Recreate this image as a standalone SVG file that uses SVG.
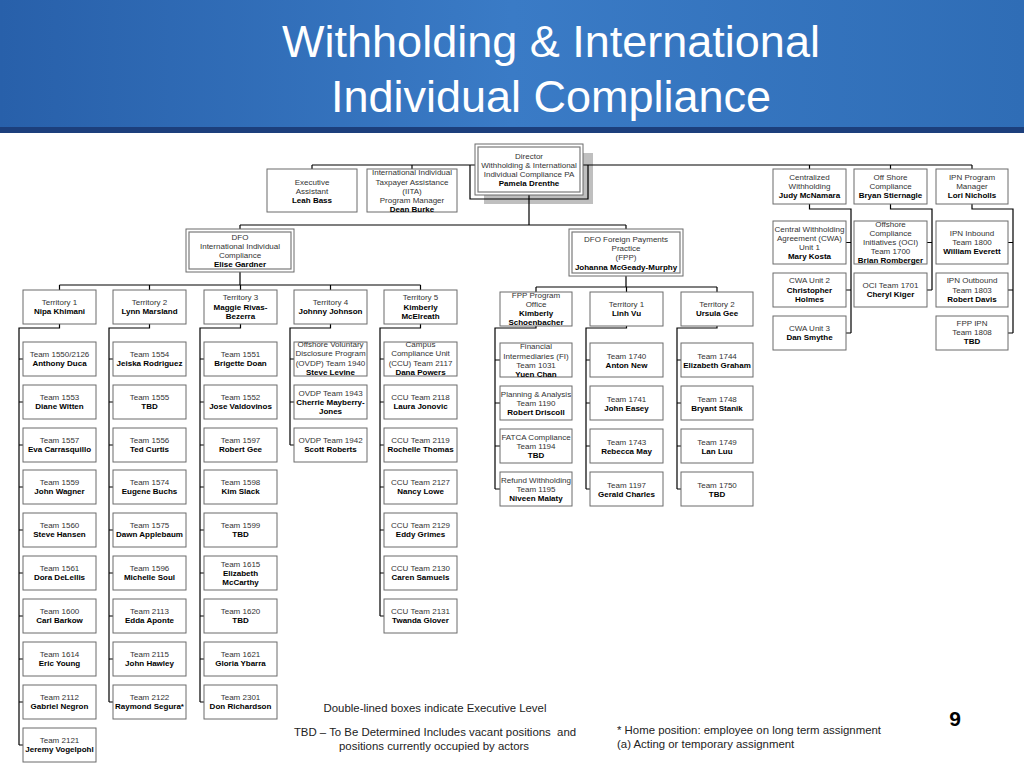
<svg xmlns="http://www.w3.org/2000/svg" width="1024" height="768" viewBox="0 0 1024 768">
<style>
.b{fill:#fff;stroke:#6b6b6b;stroke-width:1}
.d{fill:none;stroke:#7a7a7a;stroke-width:1.2}
.t{font-family:"Liberation Sans",Arial,Helvetica,sans-serif;font-size:8px;fill:#333;text-anchor:middle}
.n{font-weight:bold;fill:#000}
.c{fill:none;stroke:#000;stroke-width:1.2}
.lg{font-family:"Liberation Sans",Arial,Helvetica,sans-serif;font-size:11.4px;fill:#222}
</style>
<defs>
<linearGradient id="hg" x1="0" y1="0" x2="1" y2="0">
<stop offset="0" stop-color="#2860aa"/>
<stop offset="0.5" stop-color="#3a7bc6"/>
<stop offset="1" stop-color="#2f6db6"/>
</linearGradient>
</defs>
<rect x="0" y="0" width="1024" height="768" fill="#fff"/>
<g id="header">
<rect x="0" y="0" width="1024" height="128" fill="url(#hg)"/>
<rect x="0" y="127" width="1024" height="6" fill="#1c3f7c"/>
<text x="551" y="57" font-family="Liberation Sans,Arial,sans-serif" font-size="45" fill="#fff" text-anchor="middle">Withholding &amp; International</text>
<text x="551" y="112" font-family="Liberation Sans,Arial,sans-serif" font-size="45" fill="#fff" text-anchor="middle">Individual Compliance</text>
</g>
<rect x="484" y="153" width="109" height="51" fill="#bfbfbf"/>
<g id="connectors" class="c">
<path d="M312,165H972M312,165V169M412,165V169M470,165V199H588V165M809.5,165V169M890.5,165V169M972,165V169"/>
<path d="M809.5,204V209H851V333M846,242.5H851M846,290H851M846,333H851"/>
<path d="M890.5,204V209H932V290M927,242.5H932M927,290H932"/>
<path d="M972,204V209H1013V333M1008,242.5H1013M1008,290H1013M1008,333H1013"/>
<path d="M529,195V225M240,225H626M240,225V229M626,225V229"/>
<path d="M240,272V285M59.5,285H420.5M59.5,285V290M149.5,285V290M240.5,285V290M330.5,285V290M420.5,285V290"/>
<path d="M626,276V287M536,287H717M536,287V292M626.5,287V292M717,287V292"/>
<path d="M59.5,324V328H19V745M19,359H23M19,402H23M19,445H23M19,487H23M19,530H23M19,573H23M19,616H23M19,659H23M19,702H23M19,745H23"/>
<path d="M149.5,324V328H109V702M109,359H113M109,402H113M109,445H113M109,487H113M109,530H113M109,573H113M109,616H113M109,659H113M109,702H113"/>
<path d="M240.5,324V328H200V702M200,359H204M200,402H204M200,445H204M200,487H204M200,530H204M200,573H204M200,616H204M200,659H204M200,702H204"/>
<path d="M330.5,324V328H290V445M290,359H294M290,402H294M290,445H294"/>
<path d="M420.5,324V328H380V616M380,359H384M380,402H384M380,445H384M380,487H384M380,530H384M380,573H384M380,616H384"/>
<path d="M536,326V328H495V489M495,360H500M495,403H500M495,446H500M495,489H500"/>
<path d="M626.5,326V328H586V489M586,360H590M586,403H590M586,446H590M586,489H590"/>
<path d="M717,326V328H677V489M677,360H681M677,403H681M677,446H681M677,489H681"/>
</g>
<g id="director"><rect class="b" x="475" y="144" width="108" height="51"/><rect class="d" x="478" y="147" width="102" height="45"/><text class="t"><tspan x="529" y="159">Director</tspan><tspan x="529" y="168">Withholding &amp; International</tspan><tspan x="529" y="177">Individual Compliance PA</tspan><tspan x="529" y="186" class="n">Pamela Drenthe</tspan></text></g>
<g id="exec-assistant"><rect class="b" x="267" y="169" width="90" height="43"/><text class="t"><tspan x="312" y="185">Executive</tspan><tspan x="312" y="194">Assistant</tspan><tspan x="312" y="203" class="n">Leah Bass</tspan></text></g>
<g id="iita"><rect class="b" x="367" y="169" width="90" height="43"/><text class="t"><tspan x="412" y="175">International Individual</tspan><tspan x="412" y="184.5">Taxpayer Assistance</tspan><tspan x="412" y="194">(IITA)</tspan><tspan x="412" y="203">Program Manager</tspan><tspan x="412" y="212" class="n">Dean Burke</tspan></text></g>
<g id="centralized"><rect class="b" x="773" y="169" width="73" height="35"/><text class="t"><tspan x="809.5" y="180">Centralized</tspan><tspan x="809.5" y="189">Withholding</tspan><tspan x="809.5" y="198" class="n">Judy McNamara</tspan></text></g>
<g id="offshore"><rect class="b" x="854" y="169" width="73" height="35"/><text class="t"><tspan x="890.5" y="180">Off Shore</tspan><tspan x="890.5" y="189">Compliance</tspan><tspan x="890.5" y="198" class="n">Bryan Stiernagle</tspan></text></g>
<g id="ipn-manager"><rect class="b" x="936" y="169" width="72" height="35"/><text class="t"><tspan x="972" y="180">IPN Program</tspan><tspan x="972" y="189">Manager</tspan><tspan x="972" y="198" class="n">Lori Nicholls</tspan></text></g>
<g id="cwa1"><rect class="b" x="773" y="221" width="73" height="43"/><text class="t"><tspan x="809.5" y="232">Central Withholding</tspan><tspan x="809.5" y="241">Agreement (CWA)</tspan><tspan x="809.5" y="250">Unit 1</tspan><tspan x="809.5" y="259" class="n">Mary Kosta</tspan></text></g>
<g id="cwa2"><rect class="b" x="773" y="273" width="73" height="34"/><text class="t"><tspan x="809.5" y="283">CWA Unit 2</tspan><tspan x="809.5" y="292.5" class="n">Christopher</tspan><tspan x="809.5" y="302" class="n">Holmes</tspan></text></g>
<g id="cwa3"><rect class="b" x="773" y="316" width="73" height="34"/><text class="t"><tspan x="809.5" y="331">CWA Unit 3</tspan><tspan x="809.5" y="340" class="n">Dan Smythe</tspan></text></g>
<g id="oci1700"><rect class="b" x="854" y="221" width="73" height="43"/><text class="t"><tspan x="890.5" y="227">Offshore</tspan><tspan x="890.5" y="236">Compliance</tspan><tspan x="890.5" y="245">Initiatives (OCI)</tspan><tspan x="890.5" y="254">Team 1700</tspan><tspan x="890.5" y="263" class="n">Brian Romberger</tspan></text></g>
<g id="oci1701"><rect class="b" x="854" y="273" width="73" height="34"/><text class="t"><tspan x="890.5" y="288">OCI Team 1701</tspan><tspan x="890.5" y="297" class="n">Cheryl Kiger</tspan></text></g>
<g id="ipn-inbound"><rect class="b" x="936" y="221" width="72" height="43"/><text class="t"><tspan x="972" y="236">IPN Inbound</tspan><tspan x="972" y="245">Team 1800</tspan><tspan x="972" y="254" class="n">William Everett</tspan></text></g>
<g id="ipn-outbound"><rect class="b" x="936" y="273" width="72" height="34"/><text class="t"><tspan x="972" y="283">IPN Outbound</tspan><tspan x="972" y="292.5">Team 1803</tspan><tspan x="972" y="302" class="n">Robert Davis</tspan></text></g>
<g id="fpp-ipn"><rect class="b" x="936" y="316" width="72" height="34"/><text class="t"><tspan x="972" y="326">FPP IPN</tspan><tspan x="972" y="335">Team 1808</tspan><tspan x="972" y="344" class="n">TBD</tspan></text></g>
<g id="dfo-iic"><rect class="b" x="186" y="229" width="108" height="43"/><rect class="d" x="189" y="232" width="102" height="37"/><text class="t"><tspan x="240" y="240">DFO</tspan><tspan x="240" y="249">International Individual</tspan><tspan x="240" y="258">Compliance</tspan><tspan x="240" y="267" class="n">Elise Gardner</tspan></text></g>
<g id="dfo-fpp"><rect class="b" x="569" y="229" width="114" height="47"/><rect class="d" x="572" y="232" width="108" height="41"/><text class="t"><tspan x="626" y="242">DFO Foreign Payments</tspan><tspan x="626" y="251">Practice</tspan><tspan x="626" y="260">(FPP)</tspan><tspan x="626" y="270" class="n">Johanna McGeady-Murphy</tspan></text></g>
<g id="territory1"><rect class="b" x="23" y="290" width="73" height="34"/><text class="t"><tspan x="59.5" y="305">Territory 1</tspan><tspan x="59.5" y="314" class="n">Nipa Khimani</tspan></text></g>
<g id="territory2"><rect class="b" x="113" y="290" width="73" height="34"/><text class="t"><tspan x="149.5" y="305">Territory 2</tspan><tspan x="149.5" y="314" class="n">Lynn Marsland</tspan></text></g>
<g id="territory3"><rect class="b" x="204" y="290" width="73" height="34"/><text class="t"><tspan x="240.5" y="300">Territory 3</tspan><tspan x="240.5" y="310" class="n">Maggie Rivas-</tspan><tspan x="240.5" y="319" class="n">Bezerra</tspan></text></g>
<g id="territory4"><rect class="b" x="294" y="290" width="73" height="34"/><text class="t"><tspan x="330.5" y="305">Territory 4</tspan><tspan x="330.5" y="314" class="n">Johnny Johnson</tspan></text></g>
<g id="territory5"><rect class="b" x="384" y="290" width="73" height="34"/><text class="t"><tspan x="420.5" y="300">Territory 5</tspan><tspan x="420.5" y="310" class="n">Kimberly</tspan><tspan x="420.5" y="319" class="n">McElreath</tspan></text></g>
<g id="fpp-program-office"><rect class="b" x="500" y="292" width="72" height="34"/><text class="t"><tspan x="536" y="298">FPP Program</tspan><tspan x="536" y="307">Office</tspan><tspan x="536" y="316" class="n">Kimberly</tspan><tspan x="536" y="325" class="n">Schoenbacher</tspan></text></g>
<g id="fpp-territory1"><rect class="b" x="590" y="292" width="73" height="34"/><text class="t"><tspan x="626.5" y="307">Territory 1</tspan><tspan x="626.5" y="316" class="n">Linh Vu</tspan></text></g>
<g id="fpp-territory2"><rect class="b" x="681" y="292" width="72" height="34"/><text class="t"><tspan x="717" y="307">Territory 2</tspan><tspan x="717" y="316" class="n">Ursula Gee</tspan></text></g>
<g id="t1550"><rect class="b" x="23" y="342" width="73" height="34"/><text class="t"><tspan x="59.5" y="357">Team 1550/2126</tspan><tspan x="59.5" y="366" class="n">Anthony Duca</tspan></text></g>
<g id="t1553"><rect class="b" x="23" y="385" width="73" height="34"/><text class="t"><tspan x="59.5" y="400">Team 1553</tspan><tspan x="59.5" y="409" class="n">Diane Witten</tspan></text></g>
<g id="t1557"><rect class="b" x="23" y="428" width="73" height="34"/><text class="t"><tspan x="59.5" y="443">Team 1557</tspan><tspan x="59.5" y="452" class="n">Eva Carrasquillo</tspan></text></g>
<g id="t1559"><rect class="b" x="23" y="470" width="73" height="34"/><text class="t"><tspan x="59.5" y="485">Team 1559</tspan><tspan x="59.5" y="494" class="n">John Wagner</tspan></text></g>
<g id="t1560"><rect class="b" x="23" y="513" width="73" height="34"/><text class="t"><tspan x="59.5" y="528">Team 1560</tspan><tspan x="59.5" y="537" class="n">Steve Hansen</tspan></text></g>
<g id="t1561"><rect class="b" x="23" y="556" width="73" height="34"/><text class="t"><tspan x="59.5" y="571">Team 1561</tspan><tspan x="59.5" y="580" class="n">Dora DeLellis</tspan></text></g>
<g id="t1600"><rect class="b" x="23" y="599" width="73" height="34"/><text class="t"><tspan x="59.5" y="614">Team 1600</tspan><tspan x="59.5" y="623" class="n">Carl Barkow</tspan></text></g>
<g id="t1614"><rect class="b" x="23" y="642" width="73" height="34"/><text class="t"><tspan x="59.5" y="657">Team 1614</tspan><tspan x="59.5" y="666" class="n">Eric Young</tspan></text></g>
<g id="t2112"><rect class="b" x="23" y="685" width="73" height="34"/><text class="t"><tspan x="59.5" y="700">Team 2112</tspan><tspan x="59.5" y="709" class="n">Gabriel Negron</tspan></text></g>
<g id="t2121"><rect class="b" x="23" y="728" width="73" height="34"/><text class="t"><tspan x="59.5" y="743">Team 2121</tspan><tspan x="59.5" y="752" class="n">Jeremy Vogelpohl</tspan></text></g>
<g id="t1554"><rect class="b" x="113" y="342" width="73" height="34"/><text class="t"><tspan x="149.5" y="357">Team 1554</tspan><tspan x="149.5" y="366" class="n">Jeiska Rodriguez</tspan></text></g>
<g id="t1555"><rect class="b" x="113" y="385" width="73" height="34"/><text class="t"><tspan x="149.5" y="400">Team 1555</tspan><tspan x="149.5" y="409" class="n">TBD</tspan></text></g>
<g id="t1556"><rect class="b" x="113" y="428" width="73" height="34"/><text class="t"><tspan x="149.5" y="443">Team 1556</tspan><tspan x="149.5" y="452" class="n">Ted Curtis</tspan></text></g>
<g id="t1574"><rect class="b" x="113" y="470" width="73" height="34"/><text class="t"><tspan x="149.5" y="485">Team 1574</tspan><tspan x="149.5" y="494" class="n">Eugene Buchs</tspan></text></g>
<g id="t1575"><rect class="b" x="113" y="513" width="73" height="34"/><text class="t"><tspan x="149.5" y="528">Team 1575</tspan><tspan x="149.5" y="537" class="n">Dawn Applebaum</tspan></text></g>
<g id="t1596"><rect class="b" x="113" y="556" width="73" height="34"/><text class="t"><tspan x="149.5" y="571">Team 1596</tspan><tspan x="149.5" y="580" class="n">Michelle Soul</tspan></text></g>
<g id="t2113"><rect class="b" x="113" y="599" width="73" height="34"/><text class="t"><tspan x="149.5" y="614">Team 2113</tspan><tspan x="149.5" y="623" class="n">Edda Aponte</tspan></text></g>
<g id="t2115"><rect class="b" x="113" y="642" width="73" height="34"/><text class="t"><tspan x="149.5" y="657">Team 2115</tspan><tspan x="149.5" y="666" class="n">John Hawley</tspan></text></g>
<g id="t2122"><rect class="b" x="113" y="685" width="73" height="34"/><text class="t"><tspan x="149.5" y="700">Team 2122</tspan><tspan x="149.5" y="709" class="n">Raymond Segura*</tspan></text></g>
<g id="t1551"><rect class="b" x="204" y="342" width="73" height="34"/><text class="t"><tspan x="240.5" y="357">Team 1551</tspan><tspan x="240.5" y="366" class="n">Brigette Doan</tspan></text></g>
<g id="t1552"><rect class="b" x="204" y="385" width="73" height="34"/><text class="t"><tspan x="240.5" y="400">Team 1552</tspan><tspan x="240.5" y="409" class="n">Jose Valdovinos</tspan></text></g>
<g id="t1597"><rect class="b" x="204" y="428" width="73" height="34"/><text class="t"><tspan x="240.5" y="443">Team 1597</tspan><tspan x="240.5" y="452" class="n">Robert Gee</tspan></text></g>
<g id="t1598"><rect class="b" x="204" y="470" width="73" height="34"/><text class="t"><tspan x="240.5" y="485">Team 1598</tspan><tspan x="240.5" y="494" class="n">Kim Slack</tspan></text></g>
<g id="t1599"><rect class="b" x="204" y="513" width="73" height="34"/><text class="t"><tspan x="240.5" y="528">Team 1599</tspan><tspan x="240.5" y="537" class="n">TBD</tspan></text></g>
<g id="t1615"><rect class="b" x="204" y="556" width="73" height="34"/><text class="t"><tspan x="240.5" y="567">Team 1615</tspan><tspan x="240.5" y="576" class="n">Elizabeth</tspan><tspan x="240.5" y="585" class="n">McCarthy</tspan></text></g>
<g id="t1620"><rect class="b" x="204" y="599" width="73" height="34"/><text class="t"><tspan x="240.5" y="614">Team 1620</tspan><tspan x="240.5" y="623" class="n">TBD</tspan></text></g>
<g id="t1621"><rect class="b" x="204" y="642" width="73" height="34"/><text class="t"><tspan x="240.5" y="657">Team 1621</tspan><tspan x="240.5" y="666" class="n">Gloria Ybarra</tspan></text></g>
<g id="t2301"><rect class="b" x="204" y="685" width="73" height="34"/><text class="t"><tspan x="240.5" y="700">Team 2301</tspan><tspan x="240.5" y="709" class="n">Don Richardson</tspan></text></g>
<g id="ovdp1940"><rect class="b" x="294" y="342" width="73" height="34"/><text class="t"><tspan x="330.5" y="346.5">Offshore Voluntary</tspan><tspan x="330.5" y="356">Disclosure Program</tspan><tspan x="330.5" y="365.5">(OVDP) Team 1940</tspan><tspan x="330.5" y="375" class="n">Steve Levine</tspan></text></g>
<g id="ovdp1943"><rect class="b" x="294" y="385" width="73" height="34"/><text class="t"><tspan x="330.5" y="396">OVDP Team 1943</tspan><tspan x="330.5" y="405" class="n">Cherrie Mayberry-</tspan><tspan x="330.5" y="414" class="n">Jones</tspan></text></g>
<g id="ovdp1942"><rect class="b" x="294" y="428" width="73" height="34"/><text class="t"><tspan x="330.5" y="443">OVDP Team 1942</tspan><tspan x="330.5" y="452" class="n">Scott Roberts</tspan></text></g>
<g id="ccu2117"><rect class="b" x="384" y="342" width="73" height="34"/><text class="t"><tspan x="420.5" y="346.5">Campus</tspan><tspan x="420.5" y="356">Compliance Unit</tspan><tspan x="420.5" y="365.5">(CCU) Team 2117</tspan><tspan x="420.5" y="375" class="n">Dana Powers</tspan></text></g>
<g id="ccu2118"><rect class="b" x="384" y="385" width="73" height="34"/><text class="t"><tspan x="420.5" y="400">CCU Team 2118</tspan><tspan x="420.5" y="409" class="n">Laura Jonovic</tspan></text></g>
<g id="ccu2119"><rect class="b" x="384" y="428" width="73" height="34"/><text class="t"><tspan x="420.5" y="443">CCU Team 2119</tspan><tspan x="420.5" y="452" class="n">Rochelle Thomas</tspan></text></g>
<g id="ccu2127"><rect class="b" x="384" y="470" width="73" height="34"/><text class="t"><tspan x="420.5" y="485">CCU Team 2127</tspan><tspan x="420.5" y="494" class="n">Nancy Lowe</tspan></text></g>
<g id="ccu2129"><rect class="b" x="384" y="513" width="73" height="34"/><text class="t"><tspan x="420.5" y="528">CCU Team 2129</tspan><tspan x="420.5" y="537" class="n">Eddy Grimes</tspan></text></g>
<g id="ccu2130"><rect class="b" x="384" y="556" width="73" height="34"/><text class="t"><tspan x="420.5" y="571">CCU Team 2130</tspan><tspan x="420.5" y="580" class="n">Caren Samuels</tspan></text></g>
<g id="ccu2131"><rect class="b" x="384" y="599" width="73" height="34"/><text class="t"><tspan x="420.5" y="614">CCU Team 2131</tspan><tspan x="420.5" y="623" class="n">Twanda Glover</tspan></text></g>
<g id="fi1031"><rect class="b" x="500" y="343" width="72" height="34"/><text class="t"><tspan x="536" y="349">Financial</tspan><tspan x="536" y="358.5">Intermediaries (FI)</tspan><tspan x="536" y="368">Team 1031</tspan><tspan x="536" y="377" class="n">Yuen Chan</tspan></text></g>
<g id="pa1190"><rect class="b" x="500" y="386" width="72" height="34"/><text class="t"><tspan x="536" y="397">Planning &amp; Analysis</tspan><tspan x="536" y="406">Team 1190</tspan><tspan x="536" y="415" class="n">Robert Driscoll</tspan></text></g>
<g id="fatca1194"><rect class="b" x="500" y="429" width="72" height="34"/><text class="t"><tspan x="536" y="440">FATCA Compliance</tspan><tspan x="536" y="449">Team 1194</tspan><tspan x="536" y="458" class="n">TBD</tspan></text></g>
<g id="refund1195"><rect class="b" x="500" y="472" width="72" height="34"/><text class="t"><tspan x="536" y="483">Refund Withholding</tspan><tspan x="536" y="492">Team 1195</tspan><tspan x="536" y="501" class="n">Niveen Malaty</tspan></text></g>
<g id="t1740"><rect class="b" x="590" y="343" width="73" height="34"/><text class="t"><tspan x="626.5" y="359">Team 1740</tspan><tspan x="626.5" y="368" class="n">Anton New</tspan></text></g>
<g id="t1741"><rect class="b" x="590" y="386" width="73" height="34"/><text class="t"><tspan x="626.5" y="402">Team 1741</tspan><tspan x="626.5" y="411" class="n">John Easey</tspan></text></g>
<g id="t1743"><rect class="b" x="590" y="429" width="73" height="34"/><text class="t"><tspan x="626.5" y="445">Team 1743</tspan><tspan x="626.5" y="454" class="n">Rebecca May</tspan></text></g>
<g id="t1197"><rect class="b" x="590" y="472" width="73" height="34"/><text class="t"><tspan x="626.5" y="488">Team 1197</tspan><tspan x="626.5" y="497" class="n">Gerald Charles</tspan></text></g>
<g id="t1744"><rect class="b" x="681" y="343" width="72" height="34"/><text class="t"><tspan x="717" y="359">Team 1744</tspan><tspan x="717" y="368" class="n">Elizabeth Graham</tspan></text></g>
<g id="t1748"><rect class="b" x="681" y="386" width="72" height="34"/><text class="t"><tspan x="717" y="402">Team 1748</tspan><tspan x="717" y="411" class="n">Bryant Stanik</tspan></text></g>
<g id="t1749"><rect class="b" x="681" y="429" width="72" height="34"/><text class="t"><tspan x="717" y="445">Team 1749</tspan><tspan x="717" y="454" class="n">Lan Luu</tspan></text></g>
<g id="t1750"><rect class="b" x="681" y="472" width="72" height="34"/><text class="t"><tspan x="717" y="488">Team 1750</tspan><tspan x="717" y="497" class="n">TBD</tspan></text></g>
<g id="legend">
<text class="lg" x="435" y="712" text-anchor="middle">Double-lined boxes indicate Executive Level</text>
<text class="lg" x="435" y="736" text-anchor="middle" style="white-space:pre">TBD – To Be Determined Includes vacant positions  and</text>
<text class="lg" x="434" y="750" text-anchor="middle">positions currently occupied by actors</text>
<text class="lg" x="617" y="734">* Home position: employee on long term assignment</text>
<text class="lg" x="617" y="748">(a) Acting or temporary assignment</text>
<text x="955" y="726" font-family="Liberation Sans,Arial,sans-serif" font-size="21" font-weight="bold" fill="#000" text-anchor="middle">9</text>
</g>
</svg>
